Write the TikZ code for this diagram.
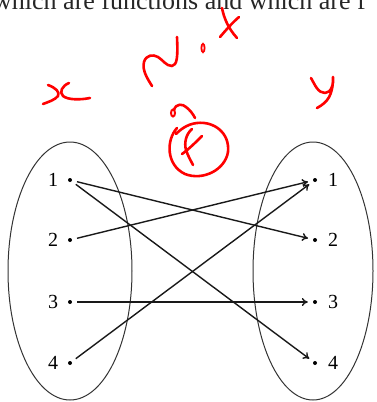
\documentclass[tikz,border=0pt]{standalone}
\usepackage{fontspec}
\setmainfont{Liberation Serif}
\usetikzlibrary{arrows.meta}
\begin{document}
\begin{tikzpicture}[x=1pt,y=-1pt,
  dotn/.style={circle,fill=black,inner sep=0pt,minimum size=4pt},
  lab/.style={font=\fontsize{20}{20}\selectfont},
  arr/.style={-{To[length=6pt,width=8pt]},line width=1.4pt,draw=black!90,shorten <=5pt,shorten >=5pt},
  oval/.style={line width=1pt,draw=black!80},
  ink/.style={red,line width=2.6pt,line cap=round,line join=round}]
\useasboundingbox (0,0) rectangle (376,402);
\clip (0,0) rectangle (376,402);
\node[anchor=base west,inner sep=0pt,font=\fontsize{26}{26}\selectfont,text=black!85] (title) at (-7,9) {which are functions and which are f};
% ovals
\draw[oval] (70,271) ellipse [x radius=62, y radius=129];
\draw[oval] (313,271) ellipse [x radius=60, y radius=129];
% dots
\foreach \i/\y in {1/180,2/240,3/302,4/363}{
  \node[dotn] (l\i) at (70,\y) {};
  \node[dotn] (r\i) at (315,\y) {};
  \node[lab] (ll\i) at (53,\y) {\i};
  \node[lab] (rl\i) at (333,\y) {\i};
}
% arrows
\draw[arr] (l1) -- (r2);
\draw[arr] (l1) -- (r4);
\draw[arr] (l2) -- (r1);
\draw[arr] (l3) -- (r3);
\draw[arr] (l4) -- (r1);
% handwriting: x
\draw[ink] (48,85) .. controls (56,88) and (60,92) .. (58,96) .. controls (55,100) and (48,102) .. (43,104);
\draw[ink] (69,83) .. controls (62,86) and (59,92) .. (63,96) .. controls (68,100) and (80,100) .. (90,98);
% N
\draw[ink] (152,86) .. controls (147,78) and (142,70) .. (144,62) .. controls (146,55) and (153,54) .. (158,57) .. controls (163,60) and (166,66) .. (172,66) .. controls (177,65) and (178,58) .. (177,37);
% o
\draw[red,line width=1.8pt] (203,48) ellipse [x radius=1.6, y radius=4.2];
% top x
\draw[ink] (222,8) .. controls (224,18) and (228,28) .. (237,38);
\draw[ink] (239,17) .. controls (232,23) and (226,30) .. (220,37);
% y
\draw[ink] (311,78) .. controls (315,85) and (318,93) .. (325,93) .. controls (331,93) and (334,84) .. (333,77) .. controls (333,95) and (328,102) .. (317,108);
% small scribble above circle
\draw[red,line width=2pt,line cap=round] (173,113) ellipse [x radius=2, y radius=3.5];
\draw[ink] (174,110) .. controls (176,103) and (183,104) .. (186,107) .. controls (190,110) and (193,114) .. (195,118);
% circle
\draw[ink] (177,128) .. controls (166,140) and (166,165) .. (185,174) .. controls (203,181) and (225,170) .. (228,152) .. controls (230,133) and (214,121) .. (197,123) .. controls (187,124) and (180,130) .. (176,134);
% f
\draw[ink] (192,129) .. controls (186,134) and (184,143) .. (186,150) .. controls (188,156) and (191,161) .. (193,165);
\draw[ink] (202,136) .. controls (196,142) and (189,149) .. (182,154);
\end{tikzpicture}
\end{document}
